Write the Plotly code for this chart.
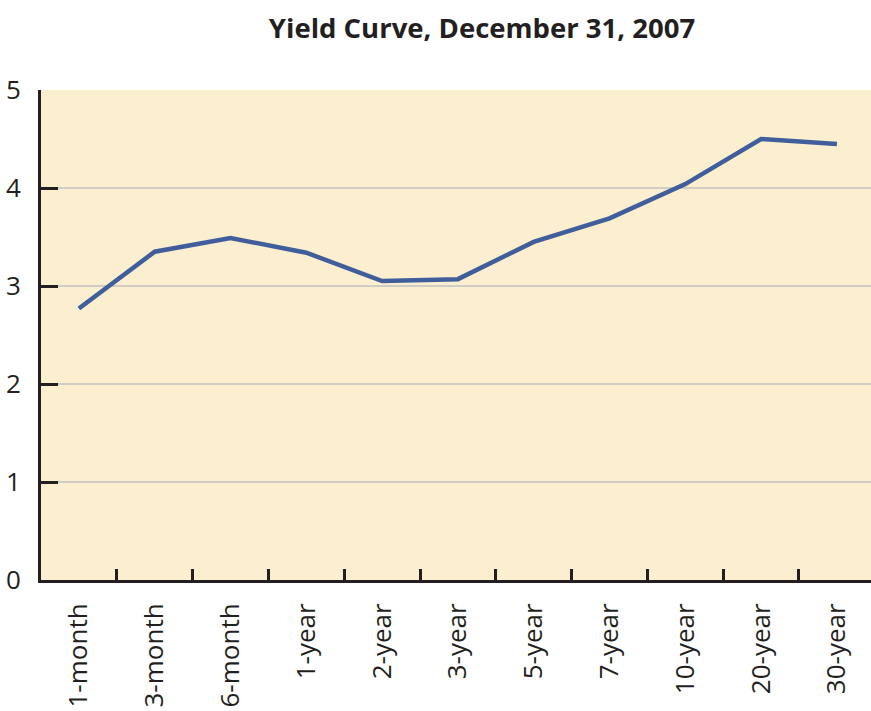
import plotly.graph_objects as go

maturities = ["1-month", "3-month", "6-month", "1-year", "2-year", "3-year",
              "5-year", "7-year", "10-year", "20-year", "30-year"]
yields = [2.77, 3.35, 3.49, 3.34, 3.05, 3.07, 3.45, 3.69, 4.04, 4.50, 4.45]
y_ticks = [0, 1, 2, 3, 4, 5]

fig = go.Figure()
fig.add_trace(go.Scatter(
    x=maturities, y=yields, mode="lines",
    line=dict(color="#3F5E9B", width=4.5),
    showlegend=False,
))

fig.update_layout(
    width=871, height=711,
    margin=dict(l=41, r=0, t=90, b=131),
    paper_bgcolor="white",
    plot_bgcolor="#FCEFD0",
    font=dict(family="Open Sans, Noto Sans, sans-serif", color="#231F20"),
    title=dict(
        text="<b>Yield Curve, December 31, 2007</b>",
        x=482 / 871, xanchor="center", y=1 - 28 / 711, yanchor="middle",
        font=dict(size=27.5, family="Open Sans, Noto Sans, sans-serif", color="#231F20"),
    ),
)

fig.update_xaxes(
    type="category",
    range=[-0.5, 10.45],
    tickson="boundaries",
    ticks="inside", ticklen=11, tickwidth=3, tickcolor="#231F20",
    tickangle=-90,
    tickfont=dict(size=26, color="#231F20"),
    ticklabelstandoff=10,
    showline=True, linecolor="#231F20", linewidth=3,
    showgrid=False, zeroline=False,
)

fig.update_yaxes(
    range=[0, 5],
    tickvals=y_ticks,
    ticktext=[str(v) for v in y_ticks],
    ticks="inside", ticklen=17, tickwidth=3, tickcolor="#231F20",
    tickfont=dict(size=26, color="#231F20"),
    ticklabelstandoff=12,
    showline=True, linecolor="#231F20", linewidth=3,
    showgrid=True, gridcolor="#CFCDC4", gridwidth=2,
    zeroline=False,
)

fig.write_html(
    "out.html",
    config={"displayModeBar": False},
    post_script="document.body.style.margin='0';document.body.style.overflow='hidden';",
)
